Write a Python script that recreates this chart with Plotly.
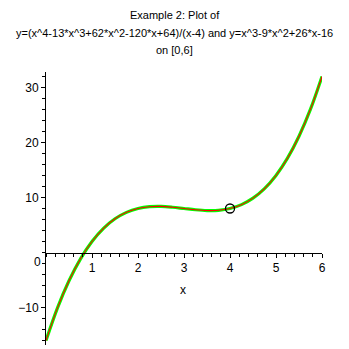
import plotly.graph_objects as go

# values
x_vals = [0, 0.25, 0.5, 0.75, 1, 1.25, 1.5, 1.75, 2, 2.25, 2.5, 2.75, 3,
          3.25, 3.5, 3.75, 4, 4.25, 4.5, 4.75, 5, 5.25, 5.5, 5.75, 6]
rational_y = [-16, -10.05, -5.13, -1.14, 2, 4.39, 6.13, 7.3, 8, 8.33, 8.38, 8.23, 8,
              7.77, 7.63, 7.67, 8, 8.7, 9.88, 11.61, 14, 17.14, 21.13, 26.05, 32]
cubic_y = [-16, -10.05, -5.13, -1.14, 2, 4.39, 6.13, 7.3, 8, 8.33, 8.38, 8.23, 8,
           7.77, 7.63, 7.67, 8, 8.7, 9.88, 11.61, 14, 17.14, 21.13, 26.05, 32]
hole_x = [4]
hole_y = [8]

x_ticks = [1, 2, 3, 4, 5, 6]
y_ticks = [-10, 10, 20, 30]

title_lines = ["Example 2: Plot of",
               "y=(x^4-13*x^3+62*x^2-120*x+64)/(x-4) and y=x^3-9*x^2+26*x-16",
               "on [0,6]"]

FONT = "Liberation Sans"
Y_RANGE = [-16.8, 32.8]

fig = go.Figure()
fig.add_trace(go.Scatter(x=x_vals, y=cubic_y, mode="lines", line_shape="spline",
                         line=dict(color="#00ff00", width=3.2), hoverinfo="skip"))
fig.add_trace(go.Scatter(x=x_vals, y=rational_y, mode="lines", line_shape="spline",
                         line=dict(color="#ff0000", width=1.1), hoverinfo="skip"))
fig.add_trace(go.Scatter(x=hole_x, y=hole_y, mode="markers",
                         marker=dict(symbol="circle-open", size=9, color="black",
                                     line=dict(width=1.3, color="black"))))

x_pos = (0 - Y_RANGE[0]) / (Y_RANGE[1] - Y_RANGE[0])

fig.update_layout(
    width=349, height=349,
    margin=dict(l=46, r=27, t=72, b=4),
    paper_bgcolor="white", plot_bgcolor="white",
    showlegend=False,
    font=dict(family=FONT, size=12, color="black"),
    xaxis=dict(range=[0, 6], tickvals=x_ticks, ticks="outside", ticklen=4,
               tickcolor="black", showline=True, linecolor="black", linewidth=1,
               showgrid=False, zeroline=False, anchor="free", position=x_pos,
               tickfont=dict(size=12),
               minor=dict(dtick=0.2, ticks="outside", ticklen=3, tickcolor="black",
                          showgrid=False)),
    yaxis=dict(range=Y_RANGE, tickvals=y_ticks, ticks="outside", ticklen=4,
               tickcolor="black", showline=True, linecolor="black", linewidth=1,
               showgrid=False, zeroline=False, tickfont=dict(size=12),
               minor=dict(dtick=2, ticks="outside", ticklen=3, tickcolor="black",
                          showgrid=False)),
)

plot_h = 349 - 72 - 4
plot_w = 349 - 46 - 27
def px_to_paper(px, py):
    return (px - 46) / plot_w, (349 - 4 - py) / plot_h

for line, py in zip(title_lines, [15, 33, 50]):
    ax_, ay_ = px_to_paper(174.5, py)
    fig.add_annotation(text=line, x=ax_, y=ay_, xref="paper", yref="paper",
                       xanchor="center", yanchor="middle", showarrow=False,
                       font=dict(size=11, family=FONT))

zx, zy = px_to_paper(37, 262)
fig.add_annotation(text="0", x=zx, y=zy, xref="paper", yref="paper",
                   xanchor="center", yanchor="middle", showarrow=False,
                   font=dict(size=12, family=FONT))
lx, ly = px_to_paper(183, 290)
fig.add_annotation(text="x", x=lx, y=ly, xref="paper", yref="paper",
                   xanchor="center", yanchor="middle", showarrow=False,
                   font=dict(size=12, family=FONT))

fig.write_html("out.html")
